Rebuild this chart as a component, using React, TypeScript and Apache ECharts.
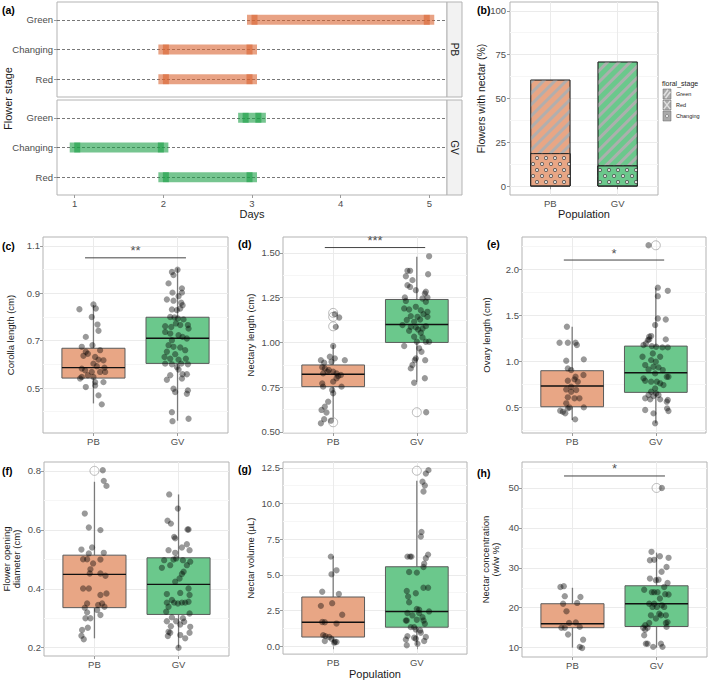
import React, { useEffect, useRef } from 'react';
import * as echarts from 'echarts';

const FONT = '"Liberation Sans", Arial, Helvetica, sans-serif';
const TXT = '#4D4D4D';
const DARK = '#1A1A1A';
const BORDER = '#B3B3B3';
const TICK = '#9A9A9A';
const GRID_MAJOR = '#EBEBEB';
const GRID_MINOR = '#F6F6F6';
const PB_FILL = '#E8A685';
const GV_FILL = '#6BC88C';
const PB_BAR = 'rgba(217,100,50,0.6)';
const GV_BAR = 'rgba(27,158,70,0.6)';
const BOX_FILLS = [PB_FILL, GV_FILL];

// ---------- data ----------
const POPULATIONS = ['PB', 'GV'];
const STAGES = ['Red', 'Changing', 'Green'];
const DAY_TICKS = [1, 2, 3, 4, 5];
const PB_STAGE_START = [2, 2, 3];
const PB_STAGE_END = [3, 3, 5];
const GV_STAGE_START = [2, 1, 2.9];
const GV_STAGE_END = [3, 2, 3.1];

const NECTAR_CHANGING = [18.8, 11.8];
const NECTAR_RED = [0, 0];
const NECTAR_GREEN = [41.9, 59.2];
const PCT_TICKS = [0, 25, 50, 75, 100];
const PCT_MINOR = [12.5, 37.5, 62.5, 87.5];

// box stats: [lower whisker, Q1, median, Q3, upper whisker]
const COROLLA_PB_STATS = [0.435, 0.542, 0.586, 0.668, 0.851];
const COROLLA_GV_STATS = [0.362, 0.604, 0.71, 0.799, 1.006];
const COROLLA_PB_PTS = [[-0.167,0.833],[0,0.853],[0.028,0.836],[-0.02,0.8],[0.048,0.768],[0.06,0.742],[-0.091,0.716],[-0.139,0.674],[-0.012,0.681],[-0.091,0.653],[-0.067,0.645],[0.079,0.66],[-0.119,0.636],[0.02,0.631],[0.06,0.62],[0.119,0.617],[0,0.603],[0.04,0.592],[-0.139,0.582],[-0.099,0.575],[0.131,0.586],[-0.02,0.568],[0.079,0.568],[0.139,0.568],[-0.139,0.547],[-0.067,0.554],[0,0.547],[-0.159,0.54],[0.02,0.525],[0.119,0.525],[-0.091,0.504],[0.02,0.511],[0.06,0.469],[0.099,0.431]];
const COROLLA_GV_PTS = [[0,1.0],[-0.067,0.99],[-0.048,0.977],[-0.107,0.942],[0.052,0.921],[-0.06,0.903],[0.052,0.903],[0.012,0.888],[-0.127,0.874],[-0.048,0.869],[0.044,0.86],[0.06,0.85],[-0.067,0.832],[-0.008,0.829],[0.032,0.836],[-0.087,0.8],[-0.036,0.798],[0.004,0.794],[0.071,0.79],[-0.147,0.761],[-0.075,0.758],[-0.02,0.773],[0.032,0.766],[0.123,0.766],[0.131,0.751],[-0.147,0.737],[-0.087,0.73],[0.012,0.723],[0.06,0.716],[0.111,0.709],[-0.067,0.702],[-0.107,0.681],[-0.048,0.674],[0.032,0.671],[-0.127,0.653],[-0.028,0.643],[0.091,0.66],[-0.155,0.631],[-0.087,0.624],[0.012,0.62],[0.099,0.624],[-0.147,0.603],[-0.067,0.6],[0.044,0.603],[0.123,0.6],[-0.008,0.589],[0.012,0.578],[-0.087,0.554],[0.06,0.558],[0.111,0.558],[-0.127,0.535],[0.052,0.54],[0.123,0.49],[-0.048,0.497],[-0.028,0.483],[0.111,0.476],[-0.067,0.398],[-0.06,0.36],[0.131,0.37]];

const NECTARY_PB_STATS = [0.571, 0.753, 0.822, 0.874, 0.985];
const NECTARY_GV_STATS = [0.78, 1.0, 1.1, 1.24, 1.478];
const NECTARY_OUTLIERS = [[1, 1.165], [1, 1.143], [1, 1.09], [1, 0.554], [2, 0.61]];
const NECTARY_PB_PTS = [[0.02,1.158],[0.072,1.139],[0.032,1.087],[0,0.98],[-0.147,0.901],[-0.04,0.92],[0.02,0.911],[-0.108,0.887],[-0.02,0.892],[0.139,0.901],[-0.131,0.861],[-0.1,0.855],[-0.052,0.846],[-0.12,0.827],[-0.068,0.836],[0,0.836],[0.04,0.827],[0.06,0.812],[0.092,0.818],[0.04,0.8],[0,0.781],[0.1,0.753],[-0.131,0.771],[-0.12,0.753],[-0.012,0.734],[0,0.716],[-0.06,0.669],[-0.1,0.641],[-0.139,0.623],[-0.08,0.608],[-0.108,0.571],[-0.147,0.548],[-0.028,0.563]];
const NECTARY_GV_PTS = [[0.147,1.481],[-0.112,1.4],[-0.08,1.4],[-0.131,1.37],[-0.052,1.348],[0.135,1.381],[-0.112,1.32],[-0.08,1.31],[-0.012,1.292],[0.108,1.283],[0.096,1.273],[-0.143,1.251],[0.127,1.251],[0.068,1.245],[-0.131,1.232],[0.108,1.227],[-0.151,1.19],[-0.092,1.184],[-0.012,1.199],[0.048,1.18],[0.127,1.171],[-0.072,1.147],[0.008,1.143],[0.08,1.158],[0.127,1.143],[-0.12,1.125],[-0.032,1.115],[0.04,1.128],[-0.171,1.097],[-0.072,1.087],[-0.012,1.084],[0.068,1.078],[0.108,1.091],[-0.092,1.065],[0.016,1.072],[0.048,1.054],[-0.032,1.032],[0.068,1.028],[0.108,1.004],[0.147,1.004],[0,1.004],[-0.151,0.98],[0.028,0.967],[0.056,0.948],[-0.012,0.911],[-0.024,0.901],[0.1,0.901],[-0.052,0.874],[-0.072,0.855],[0.096,0.8],[-0.032,0.775],[0.112,0.61]];

const OVARY_PB_STATS = [0.364, 0.508, 0.733, 0.899, 1.376];
const OVARY_GV_STATS = [0.328, 0.664, 0.877, 1.166, 1.8];
const OVARY_OUTLIERS = [[2, 2.26]];
const OVARY_PB_PTS = [[-0.063,1.376],[-0.151,1.202],[-0.052,1.202],[0.04,1.202],[0.056,1.177],[0.139,1.022],[-0.071,1.007],[-0.052,0.924],[-0.012,0.906],[0.04,0.834],[0.028,0.805],[0.135,0.852],[-0.052,0.79],[0.067,0.78],[-0.012,0.725],[-0.071,0.696],[-0.012,0.671],[0.048,0.689],[-0.052,0.61],[0.028,0.599],[0.087,0.599],[-0.071,0.545],[-0.032,0.501],[-0.052,0.49],[0.139,0.501],[-0.143,0.465],[-0.111,0.454],[-0.083,0.436],[0.036,0.371]];
const OVARY_GV_PTS = [[-0.087,2.26],[0.024,1.8],[0.143,1.766],[0.024,1.708],[0.024,1.466],[0.119,1.455],[-0.008,1.394],[-0.079,1.267],[-0.056,1.275],[-0.095,1.231],[-0.079,1.239],[0.119,1.239],[-0.147,1.177],[-0.119,1.195],[-0.048,1.166],[0.004,1.159],[0.143,1.152],[0.079,1.152],[-0.159,1.05],[-0.036,1.086],[0.052,1.05],[-0.056,1.014],[0,0.996],[-0.127,0.96],[-0.028,0.942],[-0.087,0.913],[0.032,0.935],[0.083,0.906],[-0.008,0.87],[0.131,0.834],[0.151,0.834],[-0.147,0.816],[-0.127,0.79],[-0.056,0.78],[0.012,0.78],[0.052,0.762],[0.091,0.743],[-0.008,0.707],[-0.056,0.671],[-0.087,0.635],[-0.028,0.624],[0.004,0.653],[0.032,0.635],[-0.127,0.599],[-0.067,0.588],[0.052,0.588],[0.143,0.581],[0.131,0.563],[0.135,0.49],[0.151,0.462],[-0.127,0.472],[-0.028,0.436],[-0.008,0.328]];

const OPENING_PB_STATS = [0.232, 0.336, 0.449, 0.514, 0.763];
const OPENING_GV_STATS = [0.2, 0.313, 0.415, 0.505, 0.72];
const OPENING_OUTLIERS = [[1, 0.8]];
const OPENING_PB_PTS = [[0.099,0.802],[0.111,0.766],[0.143,0.749],[-0.115,0.655],[-0.067,0.608],[0.071,0.599],[-0.155,0.533],[-0.028,0.54],[0.111,0.522],[-0.067,0.52],[-0.135,0.5],[-0.087,0.5],[-0.016,0.486],[0.071,0.499],[-0.048,0.466],[-0.056,0.452],[0.071,0.452],[0.131,0.444],[-0.135,0.401],[-0.067,0.401],[0.071,0.379],[0.143,0.384],[-0.087,0.35],[-0.115,0.336],[0.044,0.345],[0.091,0.35],[0.119,0.339],[0.032,0.328],[-0.087,0.32],[0.071,0.311],[-0.107,0.3],[-0.048,0.3],[-0.079,0.268],[-0.147,0.26],[-0.155,0.241],[-0.127,0.229]];
const OPENING_GV_PTS = [[-0.111,0.72],[-0.008,0.672],[-0.131,0.631],[-0.091,0.621],[0.107,0.601],[0.119,0.601],[-0.052,0.576],[-0.04,0.571],[0.099,0.551],[0.04,0.54],[0.131,0.531],[-0.119,0.531],[-0.04,0.522],[-0.171,0.497],[-0.06,0.499],[-0.028,0.503],[0.052,0.497],[0.139,0.492],[-0.198,0.471],[-0.099,0.48],[0.099,0.48],[0.06,0.458],[0.04,0.45],[0.012,0.435],[-0.04,0.424],[0.119,0.401],[0.02,0.386],[-0.139,0.382],[0.131,0.379],[-0.139,0.353],[-0.052,0.353],[-0.008,0.35],[0.04,0.353],[0.079,0.353],[0.119,0.356],[-0.079,0.362],[-0.119,0.339],[0.131,0.316],[-0.147,0.322],[-0.079,0.303],[0.052,0.3],[0.067,0.288],[-0.139,0.29],[-0.028,0.29],[0.02,0.279],[-0.091,0.273],[0.139,0.271],[-0.119,0.254],[-0.099,0.251],[0.131,0.251],[-0.127,0.24],[0.02,0.243],[0.079,0.232],[0,0.2]];

const VOLUME_PB_STATS = [0.25, 0.645, 1.68, 3.45, 6.31];
const VOLUME_GV_STATS = [0.07, 1.335, 2.44, 5.57, 11.6];
const VOLUME_OUTLIERS = [[2, 12.3]];
const VOLUME_PB_PTS = [[-0.028,6.28],[-0.02,5.04],[0.04,5.32],[-0.131,3.82],[0.068,3.66],[-0.147,2.83],[-0.012,3.02],[0.108,2.21],[-0.131,1.7],[-0.1,1.68],[0.04,1.59],[-0.12,0.78],[-0.092,0.71],[-0.048,0.645],[-0.02,0.53],[-0.1,0.37],[0.02,0.32],[0.04,0.3],[0.012,0.25]];
const VOLUME_GV_PTS = [[0.139,12.34],[0.108,12.1],[0.068,11.53],[0.096,11.26],[0.08,10.84],[0.056,8.01],[0.048,7.69],[-0.112,6.28],[-0.08,6.28],[-0.064,6.28],[0.135,6.42],[0.108,6.17],[0.088,5.78],[0.08,5.55],[-0.092,5.2],[0,5.16],[0.08,4.1],[0.135,4.1],[-0.12,3.87],[-0.012,3.71],[-0.104,3.48],[-0.092,3.08],[0,2.62],[0.028,2.56],[0.147,2.44],[-0.112,2.33],[0.028,2.33],[-0.052,2.16],[0.068,2.03],[0,1.86],[0.08,1.8],[-0.131,1.8],[-0.12,1.8],[0.096,1.57],[-0.072,1.34],[-0.032,1.34],[-0.012,1.17],[0.04,1.1],[0.048,0.94],[-0.112,0.71],[0.108,0.645],[-0.032,0.6],[-0.012,0.53],[-0.131,0.48],[0.088,0.37],[0.008,0.18],[-0.12,0.07]];

const CONC_PB_STATS = [10.0, 15.0, 16.0, 21.0, 25.0];
const CONC_GV_STATS = [10.0, 15.3, 21.0, 25.5, 33.8];
const CONC_OUTLIERS = [[2, 50]];
const CONC_PB_PTS = [[-0.143,25.2],[-0.103,25.4],[-0.091,22.9],[0.095,22.7],[-0.111,21.0],[0.056,21.2],[-0.071,19.1],[-0.04,16.2],[0.04,16.3],[-0.131,15.0],[0.087,15.2],[-0.091,15.0],[-0.052,13.3],[0.127,12.0],[0.087,10.2],[0.115,9.9]];
const CONC_GV_PTS = [[0.063,50.0],[-0.06,34.0],[0.04,32.9],[0.143,32.5],[-0.079,31.9],[-0.028,32.0],[0.06,29.0],[0.119,30.2],[0.131,26.2],[-0.079,27.3],[-0.008,26.9],[0.024,27.0],[-0.147,24.5],[0.091,25.2],[-0.056,23.9],[-0.028,23.9],[0.012,23.9],[0.103,23.4],[0.143,23.3],[-0.087,21.0],[-0.028,21.0],[0.04,22.3],[0.063,20.6],[0.091,20.2],[-0.048,20.2],[0.004,20.2],[0.032,18.5],[-0.067,18.1],[0.052,18.1],[0.111,18.1],[-0.008,17.3],[0.111,16.2],[0.131,16.4],[-0.087,16.2],[-0.135,15.6],[-0.159,15.0],[-0.107,15.0],[-0.135,14.5],[0.119,15.2],[-0.147,13.1],[-0.127,11.0],[-0.107,11.0],[0.052,11.0],[-0.04,10.2],[0.071,10.2]];

const SIG_X = [0.9, 2.1];

// ---------- option builder ----------
function buildOption() {
  const grid: any[] = [];
  const xAxis: any[] = [];
  const yAxis: any[] = [];
  const series: any[] = [];
  const graphic: any[] = [];
  const lbl = (extra: any = {}) => ({ color: TXT, fontSize: 9.5, fontFamily: FONT, ...extra });
  const txt = (x: number, y: number, text: string, o: any = {}) => ({
    type: 'text', x, y, rotation: o.rotation || 0, silent: true,
    style: {
      text, fill: o.fill || DARK, font: `${o.bold ? 'bold ' : ''}${o.size || 10}px ${FONT}`,
      textAlign: o.align || 'left', textVerticalAlign: 'middle', align: o.align || 'left', verticalAlign: 'middle',
    },
  });

  // ----- panel (a) -----
  const facets = [
    { top: 2, start: PB_STAGE_START, end: PB_STAGE_END, color: PB_BAR, strip: 'PB', showX: false },
    { top: 100, start: GV_STAGE_START, end: GV_STAGE_END, color: GV_BAR, strip: 'GV', showX: true },
  ];
  facets.forEach((f) => {
    const gi = grid.push({ left: 57, top: f.top, width: 390, height: 95, show: true, borderColor: BORDER, borderWidth: 1, backgroundColor: '#fff' }) - 1;
    const xi = xAxis.push({
      gridIndex: gi, type: 'value', min: 0.8, max: 5.2,
      axisLine: { show: false },
      axisTick: { show: f.showX, length: 3, lineStyle: { color: TICK }, customValues: DAY_TICKS },
      axisLabel: { show: f.showX, customValues: DAY_TICKS, margin: 3, ...lbl() },
      splitLine: { show: false },
      name: f.showX ? 'Days' : '', nameLocation: 'middle', nameGap: 13,
      nameTextStyle: { color: DARK, fontSize: 11, fontFamily: FONT },
    }) - 1;
    const yi = yAxis.push({
      gridIndex: gi, type: 'value', min: 0.4, max: 3.6,
      axisLine: { show: false },
      axisTick: { show: true, length: 3, lineStyle: { color: TICK }, customValues: [1, 2, 3] },
      axisLabel: { customValues: [1, 2, 3], formatter: (v: number) => STAGES[Math.round(v) - 1], margin: 4, ...lbl() },
      splitLine: { show: true, lineStyle: { color: '#555', type: [3, 2], width: 0.8 } },
    }) - 1;
    series.push({
      type: 'custom', xAxisIndex: xi, yAxisIndex: yi, clip: true, silent: true, z: 3,
      data: STAGES.map((_, i) => [f.start[i], f.end[i], i + 1]),
      encode: { x: [0, 1], y: 2 },
      renderItem: (params: any, api: any) => {
        const a = api.coord([api.value(0), api.value(2)]);
        const b = api.coord([api.value(1), api.value(2)]);
        const H = 10, EXT = 5, DW = 6;
        return {
          type: 'group', children: [
            { type: 'rect', shape: { x: a[0] - EXT, y: a[1] - H / 2, width: b[0] - a[0] + 2 * EXT, height: H }, style: { fill: f.color } },
            { type: 'rect', shape: { x: a[0] - 0.5, y: a[1] - H / 2, width: DW, height: H }, style: { fill: f.color } },
            { type: 'rect', shape: { x: b[0] - DW + 0.5, y: a[1] - H / 2, width: DW, height: H }, style: { fill: f.color } },
          ],
        };
      },
    });
    graphic.push({ type: 'rect', shape: { x: 447, y: f.top, width: 15, height: 95 }, style: { fill: '#F2F2F2', stroke: BORDER, lineWidth: 1 }, silent: true });
    graphic.push(txt(454.5, f.top + 47.5, f.strip, { rotation: -Math.PI / 2, align: 'center', size: 10, fill: DARK }));
  });
  graphic.push(txt(8, 98.5, 'Flower stage', { rotation: Math.PI / 2, align: 'center', size: 11 }));
  graphic.push(txt(2, 10, '(a)', { bold: true, size: 10.5, fill: '#000' }));

  // ----- panel (b) -----
  {
    const gi = grid.push({ left: 510, top: 2, width: 148, height: 193, show: true, borderColor: BORDER, borderWidth: 1, backgroundColor: '#fff' }) - 1;
    const xi = xAxis.push({
      gridIndex: gi, type: 'value', min: 0.4, max: 2.6,
      axisLine: { show: false },
      axisTick: { length: 3, lineStyle: { color: TICK }, customValues: [1, 2] },
      axisLabel: { customValues: [1, 2], formatter: (v: number) => POPULATIONS[Math.round(v) - 1], margin: 3, ...lbl() },
      splitLine: { show: true, lineStyle: { color: GRID_MAJOR } },
      name: 'Population', nameLocation: 'middle', nameGap: 13,
      nameTextStyle: { color: DARK, fontSize: 11, fontFamily: FONT },
    }) - 1;
    const yi = yAxis.push({
      gridIndex: gi, type: 'value', min: -5, max: 105,
      axisLine: { show: false },
      axisTick: { length: 3, lineStyle: { color: TICK }, customValues: PCT_TICKS },
      axisLabel: { customValues: PCT_TICKS, margin: 4, ...lbl() },
      splitLine: { show: true, lineStyle: { color: GRID_MAJOR } },
      name: 'Flowers with nectar (%)', nameLocation: 'middle', nameGap: 22,
      nameTextStyle: { color: DARK, fontSize: 10.5, fontFamily: FONT },
    }) - 1;
    yAxis.push({
      gridIndex: gi, type: 'value', min: -5, max: 105, position: 'left',
      axisLine: { show: false }, axisTick: { show: false, customValues: PCT_MINOR }, axisLabel: { show: false },
      splitLine: { show: true, lineStyle: { color: GRID_MINOR } },
    });
    const stripes = { symbol: 'rect', symbolSize: 1, color: 'rgba(175,175,175,0.95)', dashArrayX: [1, 0], dashArrayY: [3, 5], rotation: -Math.PI / 4 };
    const cross = { symbol: 'rect', symbolSize: 1, color: 'rgba(175,175,175,0.95)', dashArrayX: [1, 0], dashArrayY: [2, 5], rotation: Math.PI / 4 };
    const dotGrid = { dashArrayX: [[3.6, 4.4], [0, 4, 3.6, 0.4]], dashArrayY: [3.6, 2], rotation: 0, symbol: 'circle' };
    const dotsDark = { ...dotGrid, symbolSize: 1, color: 'rgba(70,70,70,0.9)' };
    const dotsLight = { ...dotGrid, symbolSize: 0.62, color: 'rgba(225,225,225,1)' };
    // cumulative tops (stack order: Changing, Red, Green) drawn back-to-front
    const topRed = NECTAR_CHANGING.map((v, i) => v + NECTAR_RED[i]);
    const topGreen = topRed.map((v, i) => v + NECTAR_GREEN[i]);
    const mk = (name: string, vals: number[], decal: any, z: number, clear = false) => ({
      type: 'bar', name, xAxisIndex: xi, yAxisIndex: yi, barWidth: 40, barGap: '-100%', silent: true, z,
      itemStyle: { borderColor: clear ? 'rgba(0,0,0,0)' : '#222', borderWidth: clear ? 0 : 0.7, decal },
      data: vals.map((v, i) => ({ value: [i + 1, v], itemStyle: { color: clear ? 'rgba(0,0,0,0)' : BOX_FILLS[i] } })),
    });
    series.push(mk('Green', topGreen, stripes, 3));
    series.push(mk('Red', topRed, cross, 4));
    series.push(mk('Changing', NECTAR_CHANGING, dotsDark, 5));
    series.push(mk('Changing dots', NECTAR_CHANGING, dotsLight, 6, true));
    graphic.push(txt(477, 10, '(b)', { bold: true, size: 10.5, fill: '#000' }));
    // legend
    graphic.push(txt(662, 83, 'floral_stage', { size: 7, fill: DARK }));
    const kx = 663, kw = 8, kh = 10;
    const keyY = [89, 100, 111];
    keyY.forEach((ky) => graphic.push({ type: 'rect', shape: { x: kx, y: ky, width: kw, height: kh }, style: { fill: '#A9A9A9', stroke: '#666', lineWidth: 0.5 }, silent: true }));
    graphic.push({ type: 'line', shape: { x1: kx + 0.8, y1: 95.5, x2: kx + 5, y2: 89.8 }, style: { stroke: '#E0E0E0', lineWidth: 1.6 }, silent: true });
    graphic.push({ type: 'line', shape: { x1: kx + 2.5, y1: 98.3, x2: kx + 7.4, y2: 91.8 }, style: { stroke: '#E0E0E0', lineWidth: 1.6 }, silent: true });
    graphic.push({ type: 'line', shape: { x1: kx + 0.8, y1: 100.8, x2: kx + 7.2, y2: 109.2 }, style: { stroke: '#E0E0E0', lineWidth: 1.4 }, silent: true });
    graphic.push({ type: 'line', shape: { x1: kx + 0.8, y1: 109.2, x2: kx + 7.2, y2: 100.8 }, style: { stroke: '#E0E0E0', lineWidth: 1.4 }, silent: true });
    graphic.push({ type: 'circle', shape: { cx: kx + 4, cy: 116, r: 1.6 }, style: { fill: '#E6E6E6', stroke: '#555', lineWidth: 0.5 }, silent: true });
    ['Green', 'Red', 'Changing'].forEach((s, i) => graphic.push(txt(676, keyY[i] + 5, s, { size: 5.5, fill: DARK })));
  }

  // ----- box panels -----
  const panels = [
    { g: { left: 43, top: 237, width: 185, height: 196 }, min: 0.31, max: 1.138, ticks: [0.5, 0.7, 0.9, 1.1], minor: [0.4, 0.6, 0.8, 1.0], dec: 1,
      name: 'Corolla length (cm)', gap: 28, stats: [COROLLA_PB_STATS, COROLLA_GV_STATS], pts: [COROLLA_PB_PTS, COROLLA_GV_PTS], out: [] as number[][],
      sig: { y: 1.05, t: '**' }, lab: '(c)', lx: 2, ly: 246 },
    { g: { left: 283, top: 237, width: 184, height: 196 }, min: 0.494, max: 1.589, ticks: [0.5, 0.75, 1.0, 1.25, 1.5], minor: [0.625, 0.875, 1.125, 1.375], dec: 2,
      name: 'Nectary length (cm)', gap: 28, stats: [NECTARY_PB_STATS, NECTARY_GV_STATS], pts: [NECTARY_PB_PTS, NECTARY_GV_PTS], out: NECTARY_OUTLIERS,
      sig: { y: 1.53, t: '***' }, lab: '(d)', lx: 238, ly: 244 },
    { g: { left: 522, top: 237, width: 184, height: 196 }, min: 0.223, max: 2.35, ticks: [0.5, 1.0, 1.5, 2.0], minor: [0.25, 0.75, 1.25, 1.75, 2.25], dec: 1,
      name: 'Ovary length (cm)', gap: 31, stats: [OVARY_PB_STATS, OVARY_GV_STATS], pts: [OVARY_PB_PTS, OVARY_GV_PTS], out: OVARY_OUTLIERS,
      sig: { y: 2.1, t: '*' }, lab: '(e)', lx: 487, ly: 244 },
    { g: { left: 43, top: 462, width: 186, height: 194 }, min: 0.172, max: 0.83, ticks: [0.2, 0.4, 0.6, 0.8], minor: [0.3, 0.5, 0.7], dec: 1,
      name: 'Flower opening\ndiameter (cm)', gap: 23, stats: [OPENING_PB_STATS, OPENING_GV_STATS], pts: [OPENING_PB_PTS, OPENING_GV_PTS], out: OPENING_OUTLIERS,
      sig: null, lab: '(f)', lx: 2, ly: 471 },
    { g: { left: 283, top: 462, width: 184, height: 195 }, min: -0.55, max: 12.91, ticks: [0, 2.5, 5, 7.5, 10, 12.5], minor: [1.25, 3.75, 6.25, 8.75, 11.25], dec: 1,
      name: 'Nectar volume (µL)', gap: 28, stats: [VOLUME_PB_STATS, VOLUME_GV_STATS], pts: [VOLUME_PB_PTS, VOLUME_GV_PTS], out: VOLUME_OUTLIERS,
      sig: null, lab: '(g)', lx: 238, ly: 469, xName: 'Population' },
    { g: { left: 522, top: 462, width: 185, height: 195 }, min: 7.66, max: 56.5, ticks: [10, 20, 30, 40, 50], minor: [15, 25, 35, 45, 55], dec: 0,
      name: 'Nectar concentration\n(w/w %)', gap: 22, stats: [CONC_PB_STATS, CONC_GV_STATS], pts: [CONC_PB_PTS, CONC_GV_PTS], out: CONC_OUTLIERS,
      sig: { y: 53, t: '*' }, lab: '(h)', lx: 477, ly: 473 },
  ];

  panels.forEach((p: any) => {
    const gi = grid.push({ ...p.g, show: true, borderColor: BORDER, borderWidth: 1, backgroundColor: '#fff' }) - 1;
    const xi = xAxis.push({
      gridIndex: gi, type: 'value', min: 0.4, max: 2.6,
      axisLine: { show: false },
      axisTick: { length: 3, lineStyle: { color: TICK }, customValues: [1, 2] },
      axisLabel: { customValues: [1, 2], formatter: (v: number) => POPULATIONS[Math.round(v) - 1], margin: 3, ...lbl() },
      splitLine: { show: true, lineStyle: { color: GRID_MAJOR } },
      name: p.xName || '', nameLocation: 'middle', nameGap: 11,
      nameTextStyle: { color: DARK, fontSize: 11, fontFamily: FONT },
    }) - 1;
    const yi = yAxis.push({
      gridIndex: gi, type: 'value', min: p.min, max: p.max,
      axisLine: { show: false },
      axisTick: { length: 3, lineStyle: { color: TICK }, customValues: p.ticks },
      axisLabel: { customValues: p.ticks, formatter: (v: number) => v.toFixed(p.dec), margin: 3, ...lbl() },
      splitLine: { show: true, lineStyle: { color: GRID_MAJOR } },
      name: p.name, nameLocation: 'middle', nameGap: p.gap,
      nameTextStyle: { color: DARK, fontSize: 9.5, fontFamily: FONT, lineHeight: 10 },
    }) - 1;
    yAxis.push({
      gridIndex: gi, type: 'value', min: p.min, max: p.max, position: 'left',
      axisLine: { show: false }, axisTick: { show: false, customValues: p.minor }, axisLabel: { show: false },
      splitLine: { show: true, lineStyle: { color: GRID_MINOR } },
    });
    series.push({
      type: 'custom', xAxisIndex: xi, yAxisIndex: yi, clip: true, silent: true, z: 2,
      data: p.stats.map((s: number[], i: number) => [i + 1, ...s]),
      encode: { x: 0, y: [1, 2, 3, 4, 5] },
      renderItem: (params: any, api: any) => {
        const x = api.value(0);
        const lo = api.value(1), q1 = api.value(2), md = api.value(3), q3 = api.value(4), hi = api.value(5);
        const c = (xx: number, yy: number) => api.coord([xx, yy]);
        const pl = c(x, lo), p1 = c(x, q1), p3 = c(x, q3), ph = c(x, hi);
        const tl = c(x - 0.375, q3), br = c(x + 0.375, q1);
        const ml = c(x - 0.375, md), mr = c(x + 0.375, md);
        return {
          type: 'group', children: [
            { type: 'line', shape: { x1: pl[0], y1: pl[1], x2: p1[0], y2: p1[1] }, style: { stroke: '#7A7A7A', lineWidth: 1.3 } },
            { type: 'line', shape: { x1: p3[0], y1: p3[1], x2: ph[0], y2: ph[1] }, style: { stroke: '#7A7A7A', lineWidth: 1.3 } },
            { type: 'rect', shape: { x: tl[0], y: tl[1], width: br[0] - tl[0], height: br[1] - tl[1] }, style: { fill: BOX_FILLS[params.dataIndex], stroke: '#5A5A5A', lineWidth: 1 } },
            { type: 'line', shape: { x1: ml[0], y1: ml[1], x2: mr[0], y2: mr[1] }, style: { stroke: '#111', lineWidth: 1.4 } },
          ],
        };
      },
    });
    if (p.out.length) {
      series.push({
        type: 'scatter', xAxisIndex: xi, yAxisIndex: yi, silent: true, z: 3, symbol: 'circle', symbolSize: 9,
        itemStyle: { color: 'rgba(0,0,0,0)', borderColor: '#A8A8A8', borderWidth: 1 },
        data: p.out,
      });
    }
    p.pts.forEach((arr: number[][], i: number) => {
      series.push({
        type: 'scatter', xAxisIndex: xi, yAxisIndex: yi, silent: true, z: 4, symbolSize: 6.3,
        itemStyle: { color: 'rgba(0,0,0,0.5)' },
        data: arr.map(([j, v]) => [i + 1 + j, v]),
      });
    });
    if (p.sig) {
      series.push({
        type: 'line', xAxisIndex: xi, yAxisIndex: yi, silent: true, z: 5, symbol: 'none',
        lineStyle: { color: '#444', width: 1 },
        data: SIG_X.map((x) => [x, p.sig.y]),
      });
      series.push({
        type: 'scatter', xAxisIndex: xi, yAxisIndex: yi, silent: true, z: 5, symbolSize: 1,
        itemStyle: { color: 'rgba(0,0,0,0)' },
        label: { show: true, position: 'top', distance: 0, formatter: p.sig.t, color: '#222', fontSize: 13, fontFamily: FONT },
        data: [[(SIG_X[0] + SIG_X[1]) / 2, p.sig.y]],
      });
    }
    graphic.push(txt(p.lx, p.ly, p.lab, { bold: true, size: 10.5, fill: '#000' }));
  });

  return { animation: false, backgroundColor: '#fff', grid, xAxis, yAxis, series, graphic };
}

export default function App() {
  const ref = useRef<HTMLDivElement>(null);
  useEffect(() => {
    const chart = echarts.init(ref.current!, null, { renderer: 'svg' });
    chart.setOption(buildOption() as any);
    return () => chart.dispose();
  }, []);
  return <div ref={ref} style={{ position: 'absolute', left: 0, top: 0, width: 709, height: 680, background: '#fff' }} />;
}
